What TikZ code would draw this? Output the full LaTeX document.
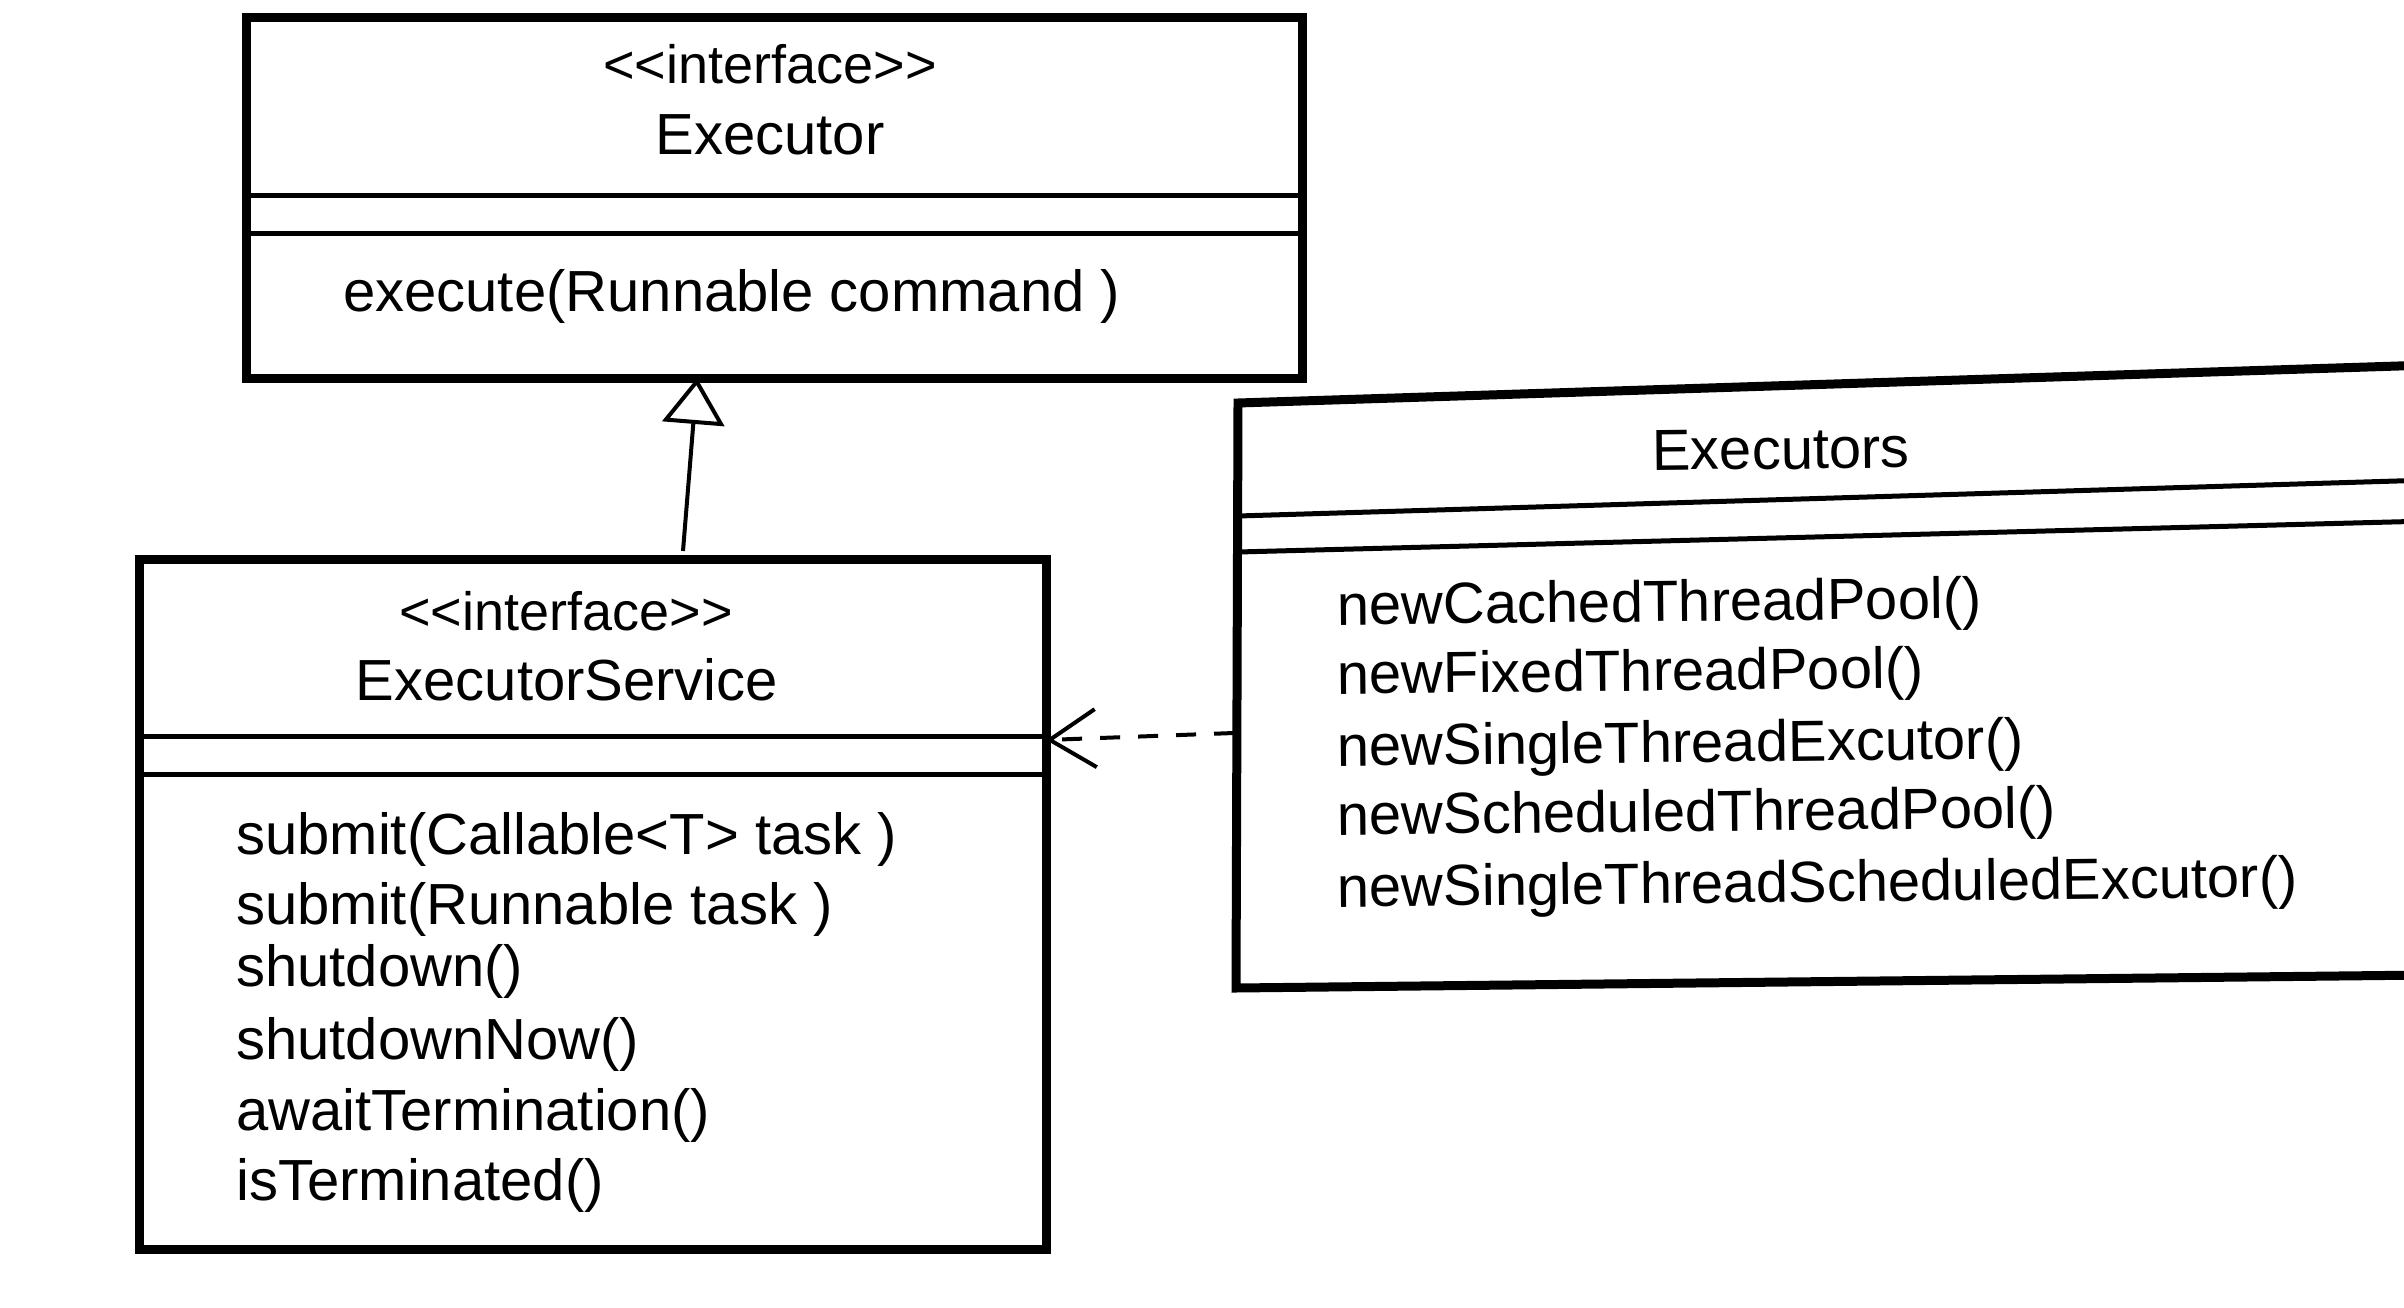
\documentclass[tikz,border=0pt]{standalone}
\usepackage{fontspec}
\setmainfont[Ligatures=TeXOff]{Liberation Sans}
\usetikzlibrary{arrows.meta}
\begin{document}
\begin{tikzpicture}[x=1pt,y=-1pt,
  box/.style={draw, line width=9pt, anchor=north west, inner sep=0pt},
  compline/.style={line width=5pt},
  txt/.style={inner sep=0pt, font=\fontsize{58}{70}\selectfont},
  stereo/.style={inner sep=0pt, font=\fontsize{54}{66}\selectfont},
  extxt/.style={txt, rotate=0.6},
  genline/.style={line width=4pt, -{Triangle[open, length=46pt, width=62pt, line width=4pt]}},
  depline/.style={line width=4pt, dash pattern=on 20pt off 18pt, -{Straight Barb[length=46pt, width=58pt, line width=4pt]}}
]
\useasboundingbox (0,0) rectangle (2404,1308);
\clip (0,0) rectangle (2404,1308);

% ---- Executor ----
\node[box, minimum width=1056pt, minimum height=361pt] (executor) at (242,13) {};
\draw[compline] (executor.west |- 0,196) -- (executor.east |- 0,196);
\draw[compline] (executor.west |- 0,234) -- (executor.east |- 0,234);
\node[stereo, anchor=base] (exst) at (770,84) {<<interface>>};
\node[txt, anchor=base] (exname) at (770,155) {Executor};
\node[txt, anchor=base west] (exm) at (343,311) {execute(Runnable command )};

% ---- ExecutorService ----
\node[box, minimum width=907pt, minimum height=690pt] (es) at (135,555) {};
\draw[compline] (es.west |- 0,736) -- (es.east |- 0,736);
\draw[compline] (es.west |- 0,774) -- (es.east |- 0,774);
\node[stereo, anchor=base] (esst) at (566,630) {<<interface>>};
\node[txt, anchor=base] (esname) at (567,700) {ExecutorService};
\node[txt, anchor=base west] (es1) at (236,854) {submit(Callable<T> task )};
\node[txt, anchor=base west] (es2) at (236,924) {submit(Runnable task )};
\node[txt, anchor=base west] (es3) at (236,986) {shutdown()};
\node[txt, anchor=base west] (es4) at (236,1059) {shutdownNow()};
\node[txt, anchor=base west] (es5) at (236,1130) {awaitTermination()};
\node[txt, anchor=base west] (es6) at (236,1200) {isTerminated()};

% ---- Executors (slightly skewed, cut at the right edge) ----
\coordinate (exsTL) at (1238,403);
\coordinate (exsBL) at (1236,988);
\coordinate (exsTR) at (2430,365);
\coordinate (exsBR) at (2430,975);
\draw[line width=9pt] (exsTR) -- (exsTL) -- (exsBL) -- (exsBR);
\draw[compline] (1238,516) -- (2430,480);
\draw[compline] (1238,552) -- (2430,521);
\node[extxt, anchor=base] (exsname) at (1781,469) {Executors};
\node[extxt, anchor=base west] (f1) at (1337,625) {newCachedThreadPool()};
\node[extxt, anchor=base west] (f2) at (1337,694) {newFixedThreadPool()};
\node[extxt, anchor=base west] (f3) at (1337,766) {newSingleThreadExcutor()};
\node[extxt, anchor=base west] (f4) at (1337,835) {newScheduledThreadPool()};
\node[extxt, anchor=base west] (f5) at (1337,907) {newSingleThreadScheduledExcutor()};

% ---- connectors ----
\coordinate (genS) at (683,551);
\coordinate (genT) at (697,378);
\draw[genline] (genS) -- (genT);

\coordinate (depS) at (1234,733);
\coordinate (depT) at (1046,740);
\draw[depline] (depS) -- (depT);
\end{tikzpicture}
\end{document}
